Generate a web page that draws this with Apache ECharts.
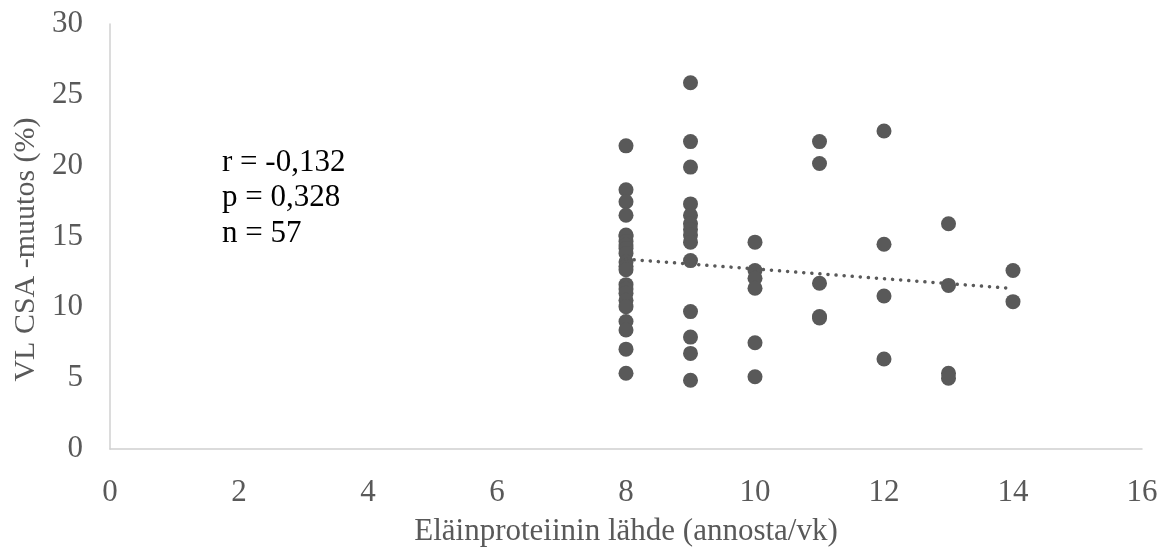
<!DOCTYPE html>
<html>
<head>
<meta charset="utf-8">
<script src="https://cdn.jsdelivr.net/npm/echarts@6/dist/echarts.min.js"></script>
<style>html,body{margin:0;padding:0;background:#fff;}#c{width:1169px;height:549px;}</style>
</head>
<body>
<div id="c"></div>
<script>
// x values (annosta/vk)
const xVals = [
  8,8,8,8,8,8,8,8,8,8,8,8,8,8,8,8,8,8,8,8,8,8,
  9,9,9,9,9,9,9,9,9,9,9,9,9,9,
  10,10,10,10,10,10,
  11,11,11,11,11,
  12,12,12,12,
  13,13,13,13,
  14,14
];
// y values (VL CSA -muutos %)
const yVals = [
  21.4,18.3,17.45,16.5,15.1,15.0,14.65,14.4,14.15,13.8,13.2,12.9,12.65,11.6,11.3,11.0,10.5,10.05,9.0,8.4,7.05,5.35,
  25.85,21.7,19.9,17.3,16.5,15.9,15.5,15.1,14.6,13.3,9.7,7.9,6.75,4.85,
  14.6,12.6,12.05,11.35,7.5,5.1,
  21.7,20.15,11.7,9.35,9.25,
  22.45,14.45,10.8,6.35,
  15.9,11.55,5.35,5.0,
  12.6,10.4
];
// trendline endpoints
const trendX = [8, 14];
const trendY = [13.4, 11.33];
const xTicks = [0,2,4,6,8,10,12,14,16];
const yTicks = [0,5,10,15,20,25,30];
const statLines = ['r = -0,132', 'p = 0,328', 'n = 57'];

const points = xVals.map((x,i)=>[x,yVals[i]]);
const trend = trendX.map((x,i)=>[x,trendY[i]]);

const chart = echarts.init(document.getElementById('c'));
const font = 'Liberation Serif, Times New Roman, serif';
const fs = 31;
chart.setOption({
  animation:false,
  grid:{left:110,right:27,top:24,bottom:100,containLabel:false,outerBoundsMode:'none'},
  xAxis:{
    type:'value',min:xTicks[0],max:xTicks[xTicks.length-1],interval:2,
    name:'Eläinproteiinin lähde (annosta/vk)',nameLocation:'middle',nameGap:67,
    nameTextStyle:{fontFamily:font,fontSize:fs,color:'#595959'},
    axisLine:{show:true,onZero:false,lineStyle:{color:'#d0d0d0',width:1.5}},
    axisTick:{show:false},splitLine:{show:false},
    axisLabel:{fontFamily:font,fontSize:fs,color:'#595959',margin:28}
  },
  yAxis:{
    type:'value',min:yTicks[0],max:yTicks[yTicks.length-1],interval:5,
    name:'VL CSA -muutos (%)',nameLocation:'middle',nameGap:62,nameRotate:90,
    nameTextStyle:{fontFamily:font,fontSize:30,color:'#595959',padding:[0,26,0,0]},
    axisLine:{show:true,lineStyle:{color:'#d0d0d0',width:1.5}},
    axisTick:{show:false},splitLine:{show:false},
    axisLabel:{fontFamily:font,fontSize:fs,color:'#595959',margin:27}
  },
  graphic:[{
    type:'text',left:222,top:145,
    style:{text:statLines.join('\n'),font:fs+'px '+font,fill:'#000',lineHeight:35.5}
  }],
  series:[
    {type:'scatter',data:points,symbol:'circle',symbolSize:15,
     itemStyle:{color:'#595959',opacity:1},z:2},
    {type:'line',data:trend,symbol:'none',z:3,
     lineStyle:{color:'#595959',width:3.5,type:[0.1,8],cap:'round'}}
  ]
});
</script>
</body>
</html>
